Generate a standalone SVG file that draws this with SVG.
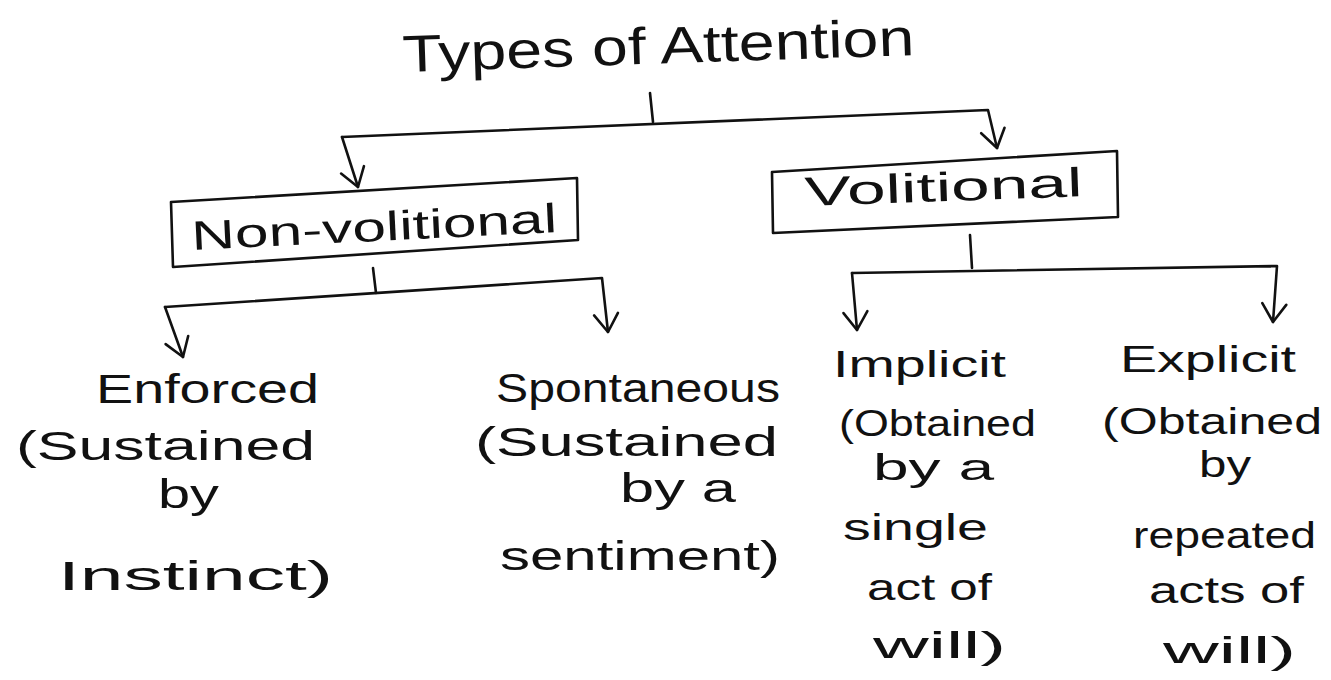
<svg xmlns="http://www.w3.org/2000/svg" width="1331" height="680" viewBox="0 0 1331 680">
  <style>
    .bg { fill: #ffffff; }
    .t { font-family: "Liberation Sans", Arial, sans-serif; fill: #111111; }
    .title { font-size: 52px; }
    .lbl { font-size: 41px; }
    .sm { font-size: 37px; }
    .box { fill: none; stroke: #111111; stroke-width: 2.6; stroke-linejoin: round; }
    .ln { fill: none; stroke: #111111; stroke-width: 2.6; stroke-linecap: round; stroke-linejoin: round; }
  </style>
  <defs>
    <marker id="arr" markerUnits="userSpaceOnUse" markerWidth="40" markerHeight="40" refX="0" refY="0" orient="auto" viewBox="-20 -20 40 40" overflow="visible">
      <path d="M -18 -12 L 0 0 L -18 12" fill="none" stroke="#111111" stroke-width="2.6" stroke-linecap="round" stroke-linejoin="round"/>
    </marker>
  </defs>
  <rect class="bg" x="0" y="0" width="1331" height="680"/>

  <g id="title">
    <text class="t title" x="403" y="72" textLength="512" lengthAdjust="spacingAndGlyphs" transform="rotate(-1.9 403 72)">Types of Attention</text>
  </g>

  <g id="non-volitional">
    <polygon class="box" points="171,202 577,178 578,240 173,267"/>
    <text class="t lbl" x="192" y="250" textLength="366" lengthAdjust="spacingAndGlyphs" transform="rotate(-2.8 192 250)">Non-volitional</text>
  </g>

  <g id="volitional">
    <polygon class="box" points="772,172 1117,151 1118,217 773,233"/>
    <text class="t lbl" x="805" y="206" textLength="278" lengthAdjust="spacingAndGlyphs" transform="rotate(-2 805 206)">Volitional</text>
  </g>

  <g id="enforced">
    <text class="t lbl" x="96" y="403" textLength="223" lengthAdjust="spacingAndGlyphs">Enforced</text>
    <text class="t lbl" x="16" y="460" textLength="299" lengthAdjust="spacingAndGlyphs">(Sustained</text>
    <text class="t lbl" x="158" y="508" textLength="61" lengthAdjust="spacingAndGlyphs">by</text>
    <text class="t lbl" x="58" y="590" textLength="275" lengthAdjust="spacingAndGlyphs">Instinct)</text>
  </g>

  <g id="spontaneous">
    <text class="t lbl" x="496" y="402" textLength="284" lengthAdjust="spacingAndGlyphs">Spontaneous</text>
    <text class="t lbl" x="475" y="456" textLength="303" lengthAdjust="spacingAndGlyphs">(Sustained</text>
    <text class="t lbl" x="620" y="502" textLength="116" lengthAdjust="spacingAndGlyphs">by a</text>
    <text class="t lbl" x="500" y="570" textLength="280" lengthAdjust="spacingAndGlyphs">sentiment)</text>
  </g>

  <g id="implicit">
    <text class="t sm" x="833" y="377" textLength="173" lengthAdjust="spacingAndGlyphs">Implicit</text>
    <text class="t sm" x="839" y="436" textLength="197" lengthAdjust="spacingAndGlyphs">(Obtained</text>
    <text class="t sm" x="873" y="480" textLength="121" lengthAdjust="spacingAndGlyphs">by a</text>
    <text class="t sm" x="843" y="540" textLength="145" lengthAdjust="spacingAndGlyphs">single</text>
    <text class="t sm" x="867" y="600" textLength="125" lengthAdjust="spacingAndGlyphs">act of</text>
    <text class="t sm" x="873" y="658" textLength="133" lengthAdjust="spacingAndGlyphs">will)</text>
  </g>

  <g id="explicit">
    <text class="t sm" x="1120" y="372" textLength="176" lengthAdjust="spacingAndGlyphs">Explicit</text>
    <text class="t sm" x="1102" y="434" textLength="220" lengthAdjust="spacingAndGlyphs">(Obtained</text>
    <text class="t sm" x="1199" y="477" textLength="52" lengthAdjust="spacingAndGlyphs">by</text>
    <text class="t sm" x="1133" y="548" textLength="183" lengthAdjust="spacingAndGlyphs">repeated</text>
    <text class="t sm" x="1149" y="603" textLength="155" lengthAdjust="spacingAndGlyphs">acts of</text>
    <text class="t sm" x="1163" y="663" textLength="133" lengthAdjust="spacingAndGlyphs">will)</text>
  </g>

  <g id="connectors">
    <path class="ln" d="M 650 93 L 653 122"/>
    <path class="ln" d="M 342 137 L 358 187" marker-end="url(#arr)"/>
    <path class="ln" d="M 342 137 L 988 110 L 997 148" marker-end="url(#arr)"/>

    <path class="ln" d="M 373 268 L 376 293"/>
    <path class="ln" d="M 165 307 L 183 357" marker-end="url(#arr)"/>
    <path class="ln" d="M 165 307 L 602 278 L 608 332" marker-end="url(#arr)"/>

    <path class="ln" d="M 970 235 L 972 268"/>
    <path class="ln" d="M 852 273 L 857 330" marker-end="url(#arr)"/>
    <path class="ln" d="M 852 273 L 1277 266 L 1273 322" marker-end="url(#arr)"/>
  </g>
</svg>
